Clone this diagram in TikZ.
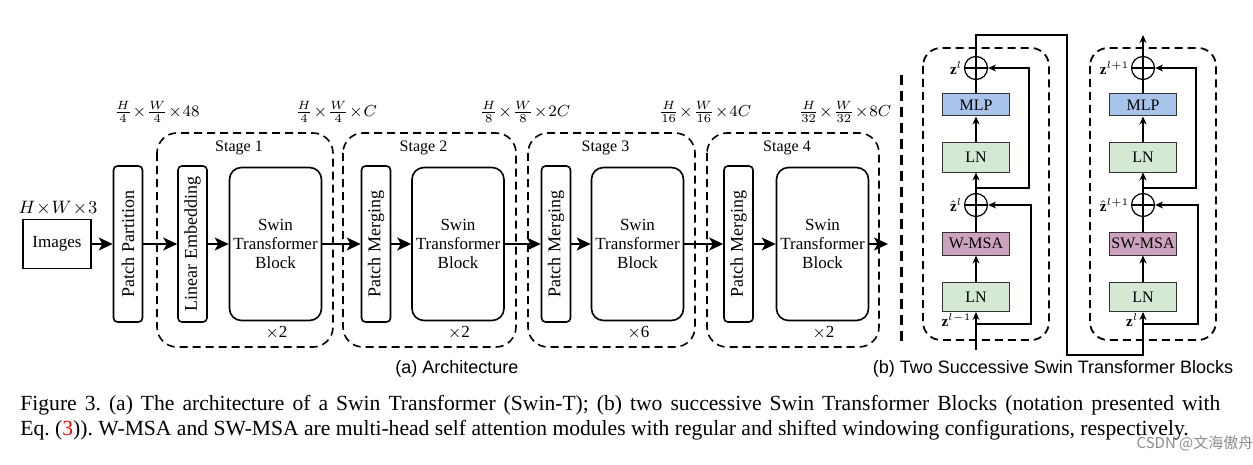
\documentclass[tikz,border=0pt]{standalone}
\usepackage{fontspec}
\setmainfont{Liberation Serif}
\setsansfont{Liberation Sans}
\newfontfamily\cjkfont{Noto Sans CJK SC}
\usetikzlibrary{arrows.meta}
\definecolor{lnfill}{HTML}{D5E8D4}
\definecolor{mlpfill}{HTML}{A9C4EB}
\definecolor{msafill}{HTML}{CDA2BE}

\begin{document}
\begin{tikzpicture}[x=0.5pt,y=-0.5pt,
  stagebox/.style={line width=0.8pt,dash pattern=on 4pt off 2.5pt,rounded corners=10pt},
  blockbox/.style={line width=0.9pt,dash pattern=on 4pt off 2.5pt,rounded corners=9pt},
  tallbox/.style={draw,line width=0.8pt,rounded corners=2pt,rotate=90,minimum width=78pt,minimum height=14.5pt,inner sep=0pt,font=\fontsize{9}{10}\selectfont},
  swinbox/.style={draw,line width=0.8pt,rounded corners=6pt,minimum width=46pt,minimum height=76.5pt,inner sep=0pt,align=center,font=\fontsize{8.5}{9.5}\selectfont},
  flow/.style={line width=0.8pt,-{Stealth[length=7pt,width=6.5pt,inset=1.8pt]}},
  layer/.style={draw=black!80,line width=0.5pt,minimum width=33.5pt,inner sep=0pt,font=\fontsize{8}{9}\selectfont},
  ln/.style={layer,fill=lnfill,minimum height=14.5pt},
  addop/.style={draw,circle,line width=0.6pt,minimum size=11.5pt,inner sep=0pt,
    path picture={\draw[line width=0.6pt] (path picture bounding box.north) -- (path picture bounding box.south) (path picture bounding box.west) -- (path picture bounding box.east);}},
  link/.style={line width=0.6pt},
  linkarrow/.style={link,-{Stealth[length=4pt,width=3.5pt]}},
  zlabel/.style={inner sep=0.5pt,font=\fontsize{7.5}{8}\selectfont},
  dimlabel/.style={inner sep=0pt,font=\fontsize{8}{9}\selectfont}]
\fill[white] (0,0) rectangle (1253,465);
\useasboundingbox (0,0) rectangle (1253,465);

\node[draw,line width=0.8pt,minimum width=34pt,minimum height=24.5pt,inner sep=0pt,font=\fontsize{8.5}{9.5}\selectfont] (img) at (57,244) {Images};
\node[inner sep=0pt,font=\fontsize{9.5}{10}\selectfont] (hw) at (58,208) {$H\!\times\! W\!\times\! 3$};
\node[tallbox] (pp) at (128,244) {Patch Partition};
\draw[flow] (img) -- (pp);

\foreach \i/\a/\b/\px/\sx/\n/\t in {1/157/333/192.5/275.5/2/Linear Embedding,2/343/516/376/458/2/Patch Merging,3/528/695/556/637.5/6/Patch Merging,4/707/879/738.5/822.5/2/Patch Merging}{
  \draw[stagebox] (\a,133) rectangle (\b,347);
  \node[inner sep=0pt,font=\fontsize{8}{9}\selectfont] (stage\i) at ({(\a+\b)/2-6},148) {Stage \i};
  \node[tallbox] (pm\i) at (\px,244) {\t};
  \node[swinbox] (swin\i) at (\sx,244) {Swin\\Transformer\\Block};
  \node[inner sep=0pt,font=\fontsize{8.5}{9.5}\selectfont] (rep\i) at (\sx+1,333) {$\times$\n};
  \draw[flow] (pm\i) -- (swin\i);
}
\draw[flow] (pp) -- (pm1);
\draw[flow] (swin1) -- (pm2);
\draw[flow] (swin2) -- (pm3);
\draw[flow] (swin3) -- (pm4);
\coordinate (out) at (888,244);
\draw[flow] (swin4) -- (out);

\node[dimlabel] (dim0) at (157,112) {$\frac{H}{4}\!\times\!\frac{W}{4}\!\times\!48$};
\node[dimlabel] (dim1) at (336,112) {$\frac{H}{4}\!\times\!\frac{W}{4}\!\times\!C$};
\node[dimlabel] (dim2) at (525,112) {$\frac{H}{8}\!\times\!\frac{W}{8}\!\times\!2C$};
\node[dimlabel] (dim3) at (705,112) {$\frac{H}{16}\!\times\!\frac{W}{16}\!\times\!4C$};
\node[dimlabel] (dim4) at (845,112) {$\frac{H}{32}\!\times\!\frac{W}{32}\!\times\!8C$};

\draw[line width=1.5pt,dash pattern=on 5pt off 3pt] (901,75) -- (901,345);

\foreach \k/\bx/\msa/\zin/\zmid in {1/976/W-MSA/l-1/l,2/1143/SW-MSA/l/l+1}{
  \draw[blockbox] ({\bx-53},48) rectangle ({\bx+73},340);
  \node[ln] (lna\k) at (\bx,297) {LN};
  \node[layer,fill=msafill,minimum height=11.5pt] (msa\k) at (\bx,243.5) {\msa};
  \node[addop] (adda\k) at (\bx,205) {};
  \node[ln] (lnb\k) at (\bx,157.5) {LN};
  \node[layer,fill=mlpfill,minimum height=11pt] (mlp\k) at (\bx,105) {MLP};
  \node[addop] (addb\k) at (\bx,68) {};
  \draw[linkarrow] (lna\k) -- (msa\k);
  \draw[link] (msa\k) -- (adda\k);
  \draw[linkarrow] (adda\k) -- (lnb\k);
  \draw[linkarrow] (lnb\k) -- (mlp\k);
  \draw[link] (mlp\k) -- (addb\k);
  \draw[linkarrow] (\bx,188) -| ({\bx+53},68) -- (addb\k.east);
  \draw[linkarrow] (\bx,324) -| ({\bx+55},205) -- (adda\k.east);
  \node[zlabel,anchor=east] (zb\k) at (addb\k.west) {$\mathbf{z}^{\zmid}$};
  \node[zlabel,anchor=east] (zh\k) at (adda\k.west) {$\hat{\mathbf{z}}^{\zmid}$};
  \node[zlabel,anchor=east] (za\k) at ({\bx-3},320) {$\mathbf{z}^{\zin}$};
}
\coordinate (in1) at (976,350);
\coordinate (t1) at (976,35);
\coordinate (t2) at (1067,35);
\coordinate (t3) at (1067,355);
\coordinate (t4) at (1143,355);
\coordinate (out2) at (1143,35);
\draw[linkarrow] (in1) -- (lna1);
\draw[linkarrow] (addb1) -- (t1) -- (t2) -- (t3) -- (t4) -- (lna2);
\draw[linkarrow] (addb2) -- (out2);

\node[inner sep=0pt,font=\sffamily\fontsize{9}{10}\selectfont] (suba) at (457,369) {(a) Architecture};
\node[inner sep=0pt,font=\sffamily\fontsize{9}{10}\selectfont] (subb) at (1053,369) {(b) Two Successive Swin Transformer Blocks};

\node[anchor=base west,inner sep=0pt,font=\frenchspacing\fontsize{10.8}{12}\selectfont] (cap1) at (20,410) {\makebox[600pt][s]{Figure 3. (a) The architecture of a Swin Transformer (Swin-T); (b) two successive Swin Transformer Blocks (notation presented with}};
\node[anchor=base west,inner sep=0pt,font=\frenchspacing\fontsize{10.8}{12}\selectfont] (cap2) at (20,435) {Eq. (\textcolor{red}{3})). W-MSA and SW-MSA are multi-head self attention modules with regular and shifted windowing configurations, respectively.};
\node[inner sep=0pt,text=black!45,font=\cjkfont\fontsize{7.5}{8}\selectfont] (wm) at (1195,443) {CSDN @文海傲舟};
\end{tikzpicture}
\end{document}
